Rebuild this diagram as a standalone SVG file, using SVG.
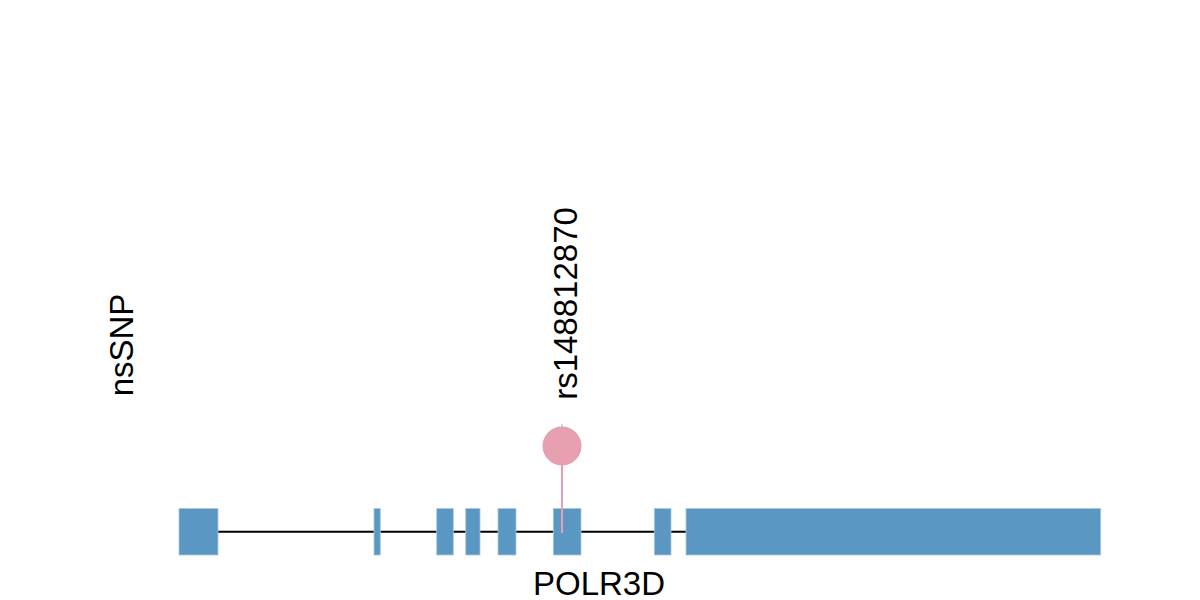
<svg xmlns="http://www.w3.org/2000/svg" width="1200" height="600" viewBox="0 0 1200 600">
<style>
.exon{fill:#5B97C3;stroke:#A9C9E2;stroke-width:0.8}
.lbl{font-family:"Liberation Sans",Arial,sans-serif;font-size:33px;fill:#000}
</style>
<rect width="1200" height="600" fill="#fff"/>
<g id="connectors">
<line x1="218" y1="531.7" x2="686" y2="531.7" stroke="#000" stroke-width="2"/>
</g>
<g id="gene">
<rect class="exon" x="179" y="508.5" width="39" height="46.5"/>
<rect class="exon" x="374" y="508.5" width="6.3" height="46.5"/>
<rect class="exon" x="436.7" y="508.5" width="16.6" height="46.5"/>
<rect class="exon" x="465.7" y="508.5" width="14.3" height="46.5"/>
<rect class="exon" x="498" y="508.5" width="18" height="46.5"/>
<rect class="exon" x="553.3" y="508.5" width="27.7" height="46.5"/>
<rect class="exon" x="654.3" y="508.5" width="16.7" height="46.5"/>
<rect class="exon" x="686" y="508.5" width="414.7" height="46.5"/>
</g>
<g id="snp">
<line x1="562" y1="424" x2="562" y2="430" stroke="#aaa" stroke-width="1"/>
<line x1="562" y1="446" x2="562" y2="533" stroke="#E8A0B0" stroke-width="2"/>
<circle cx="562" cy="446" r="19" fill="#E8A0B0" stroke="#E29AAB" stroke-width="1"/>
</g>
<g id="labels">
<text class="lbl" transform="translate(577,303.5) rotate(-90)" text-anchor="middle">rs148812870</text>
<text class="lbl" transform="translate(133,345) rotate(-90)" text-anchor="middle">nsSNP</text>
<text class="lbl" x="599" y="595" text-anchor="middle">POLR3D</text>
</g>
</svg>
